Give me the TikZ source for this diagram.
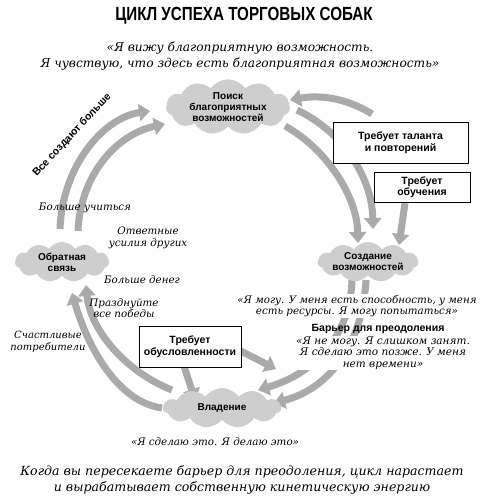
\documentclass[tikz,border=0pt]{standalone}
\usepackage{fontspec}
\setmainfont{DejaVu Serif}
\setsansfont{Liberation Sans}
\usetikzlibrary{shapes.symbols,arrows.meta}
\definecolor{arrgray}{RGB}{170,170,170}
\definecolor{cloudgray}{RGB}{206,206,206}
\tikzset{
  arr/.style={line width=7pt, draw=arrgray, -{Triangle[length=11pt,width=17pt]}},
  cloudn/.style={cloud, cloud puffs=11, cloud puff arc=110, cloud ignores aspect, fill=cloudgray, draw=none, align=center, inner sep=0pt, font=\sffamily\bfseries\fontsize{10}{11}\selectfont},
  boxn/.style={draw=black, line width=0.8pt, fill=white, align=center, inner sep=0pt, font=\sffamily\bfseries\fontsize{10.5}{11.5}\selectfont},
  quote/.style={align=center, inner sep=1pt, font=\itshape\fontsize{10.3}{11.5}\selectfont},
  label/.style={align=center, inner sep=1pt, font=\sffamily\bfseries\fontsize{10.5}{12}\selectfont}
}
\begin{document}
\begin{tikzpicture}[x=1pt,y=-1pt]
\useasboundingbox[fill=white] (0,0) rectangle (480,502);

% named end points
\coordinate (a1s) at (60,229);   \coordinate (a1e) at (150,111);
\coordinate (a2s) at (78,231);   \coordinate (a2e) at (165,124);
\coordinate (a3s) at (372,114);  \coordinate (a3e) at (290,100);
\coordinate (a4s) at (297,110);  \coordinate (a4e) at (373,229);
\coordinate (a5s) at (285,126);  \coordinate (a5e) at (358,243);
\coordinate (a6s) at (405,203);  \coordinate (a6e) at (399,245);
\coordinate (a7s) at (352,280);  \coordinate (a7e) at (258,390);
\coordinate (a8s) at (366,280);  \coordinate (a8e) at (274,403);
\coordinate (a9s) at (235,348);  \coordinate (a9e) at (276,369);
\coordinate (a10s) at (184,366); \coordinate (a10e) at (195,400);
\coordinate (a11s) at (162,408); \coordinate (a11e) at (72,293);
\coordinate (a12s) at (172,390); \coordinate (a12e) at (86,285);

% arrows (drawn first, behind)
\draw[arr] (a1s) .. controls (62,168) and (102,118) .. (a1e);
\draw[arr] (a2s) .. controls (80,178) and (114,135) .. (a2e);
\draw[arr] (a3s) .. controls (345,97) and (318,95) .. (a3e);
\draw[arr] (a4s) .. controls (340,130) and (372,175) .. (a4e);
\draw[arr] (a5s) .. controls (325,148) and (357,195) .. (a5e);
\draw[arr] (a6s) -- (a6e);
\draw[arr] (a7s) .. controls (350,340) and (310,375) .. (a7e);
\draw[arr] (a8s) .. controls (362,350) and (325,390) .. (a8e);
\draw[arr] (a9s) -- (a9e);
\draw[arr] (a10s) -- (a10e);
\draw[arr] (a11s) .. controls (118,402) and (88,348) .. (a11e);
\draw[arr] (a12s) .. controls (126,372) and (90,330) .. (a12e);

% clouds
\node[cloudn, minimum width=124pt, minimum height=54pt] (top) at (228,107) {Поиск\\благоприятных\\возможностей};
\node[cloudn, minimum width=98pt, minimum height=40pt] (right) at (368,262) {Создание\\возможностей};
\node[cloudn, minimum width=94pt, minimum height=40pt] (left) at (62,262) {Обратная\\связь};
\node[cloudn, minimum width=118pt, minimum height=40pt] (bottom) at (222,408) {Владение};

% boxes
\node[boxn, minimum width=135pt, minimum height=41pt] (b1) at (400.5,142.5) {Требует таланта\\и повторений};
\node[boxn, minimum width=96pt, minimum height=30pt] (b2) at (422,187) {Требует\\обучения};
\node[boxn, minimum width=102pt, minimum height=41pt] (b3) at (190,346.5) {Требует\\обусловленности};

% title and quotes
\node[inner sep=0pt] (title) at (244,16) {\scalebox{0.8}[1]{\sffamily\bfseries\fontsize{19}{19}\selectfont ЦИКЛ УСПЕХА ТОРГОВЫХ СОБАК}};
\node[quote, font=\itshape\fontsize{12.2}{16}\selectfont] (q1) at (240,56) {«Я вижу благоприятную возможность.\\Я чувствую, что здесь есть благоприятная возможность»};

\node[label, rotate=47] (all) at (72,135) {Все создают больше};
\node[quote] (learn) at (85,208) {Больше учиться};
\node[quote] (resp) at (148,238) {Ответные\\усилия других};
\node[quote] (money) at (142,280) {Больше денег};
\node[quote] (cele) at (124,308) {Празднуйте\\все победы};
\node[quote, font=\itshape\fontsize{10}{11.5}\selectfont] (happy) at (48,342) {Счастливые\\потребители};

\node[quote, fill=white] (can) at (357,306) {«Я могу. У меня есть способность, у меня\\есть ресурсы. Я могу попытаться»};
\node[label] (barrier) at (378,329) {Барьер для преодоления};
\node[quote, fill=white, font=\itshape\fontsize{10.5}{11.5}\selectfont] (cant) at (383,353) {«Я не могу. Я слишком занят.\\Я сделаю это позже. У меня\\нет времени»};

\node[quote] (doing) at (215,442) {«Я сделаю это. Я делаю это»};
\node[quote, font=\itshape\fontsize{12.6}{16}\selectfont] (foot) at (242,480) {Когда вы пересекаете барьер для преодоления, цикл нарастает\\и вырабатывает собственную кинетическую энергию};
\end{tikzpicture}
\end{document}
